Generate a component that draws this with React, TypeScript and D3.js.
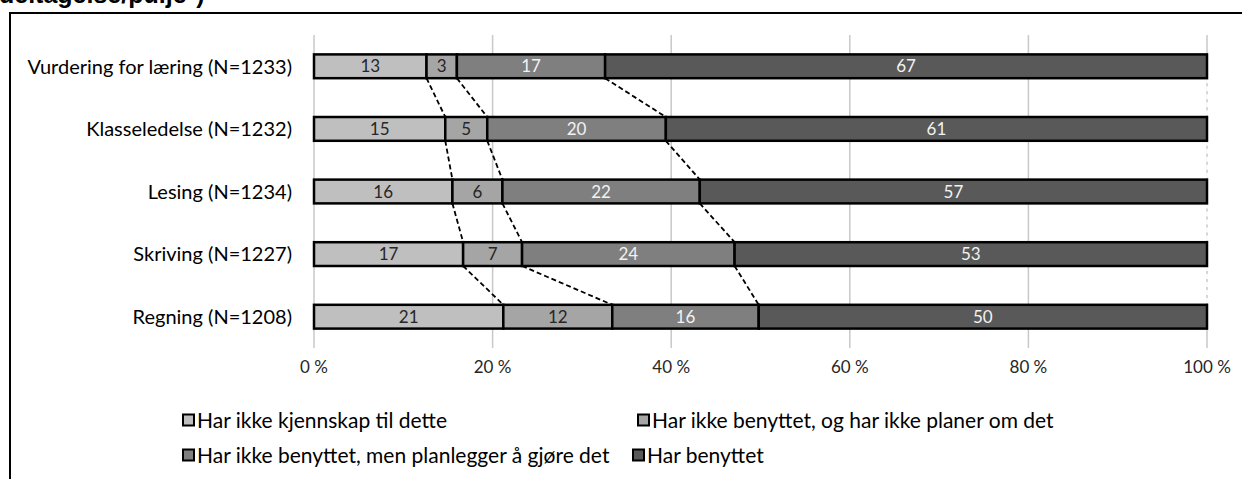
import React, { useEffect, useRef } from "react";
import * as d3 from "d3";

// categories (top to bottom)
const categories = [
  "Vurdering for læring (N=1233)",
  "Klasseledelse (N=1232)",
  "Lesing (N=1234)",
  "Skriving (N=1227)",
  "Regning (N=1208)",
];

// series, percent per category
const seriesNames = [
  "Har ikke kjennskap til dette",
  "Har ikke benyttet, og har ikke planer om det",
  "Har ikke benyttet, men planlegger å gjøre det",
  "Har benyttet",
];
const notKnown = [12.6, 14.7, 15.5, 16.7, 21.2];
const notPlanned = [3.4, 4.7, 5.6, 6.6, 12.2];
const planned = [16.6, 20.0, 22.1, 23.8, 16.4];
const used = [67.4, 60.6, 56.8, 52.9, 50.2];

const xTicks = [0, 20, 40, 60, 80, 100];
const colors = ["#bfbfbf", "#a5a5a5", "#7f7f7f", "#595959"];
const labelColors = ["#262626", "#262626", "#f2f2f2", "#f2f2f2"];

const FONT = "Lato, 'Open Sans', sans-serif";

export default function App() {
  const ref = useRef<SVGSVGElement>(null);

  useEffect(() => {
    const svg = d3.select(ref.current);
    svg.selectAll("*").remove();

    const width = 1242;
    const height = 479;
    const series = [notKnown, notPlanned, planned, used];

    const x = d3.scaleLinear().domain([0, 100]).range([314, 1207]);
    const y = d3
      .scaleBand<string>()
      .domain(categories)
      .range([35, 348])
      .paddingInner(0.62)
      .paddingOuter(0.31);

    // outer frame + clipped heading
    svg
      .append("text")
      .attr("x", -1)
      .attr("y", 3)
      .attr("font-family", "'Liberation Sans', Arial, sans-serif")
      .attr("font-weight", "bold")
      .attr("font-size", 25)
      .text("deltagelse/pulje*)");

    svg
      .append("path")
      .attr("d", `M10,${height + 5}V13H${width + 5}`)
      .attr("fill", "none")
      .attr("stroke", "#000")
      .attr("stroke-width", 2);

    // grid
    svg
      .append("g")
      .selectAll("line")
      .data(xTicks)
      .join("line")
      .attr("x1", (d) => x(d))
      .attr("x2", (d) => x(d))
      .attr("y1", 35)
      .attr("y2", 348)
      .attr("stroke", "#c8c8c8")
      .attr("stroke-width", 1.5);

    // tick labels
    svg
      .append("g")
      .selectAll("text")
      .data(xTicks)
      .join("text")
      .attr("x", (d) => x(d))
      .attr("y", 373)
      .attr("text-anchor", "middle")
      .attr("font-family", FONT)
      .attr("font-size", 17)
      .attr("fill", "#262626")
      .text((d) => `${d} %`);

    const stacked = categories.map((c, i) => {
      let acc = 0;
      return series.map((s, k) => {
        const x0 = acc;
        acc += s[i];
        return { cat: c, k, v: s[i], x0, x1: acc };
      });
    });

    // dashed connectors between bars
    const conn = svg.append("g");
    for (let i = 0; i < categories.length - 1; i++) {
      const yb = y(categories[i])! + y.bandwidth();
      const yt = y(categories[i + 1])!;
      stacked[i].forEach((seg, k) => {
        const last = k === stacked[i].length - 1;
        const xa = last ? x(100) : x(seg.x1);
        const xb = last ? x(100) : x(stacked[i + 1][k].x1);
        conn
          .append("line")
          .attr("x1", xa)
          .attr("x2", xb)
          .attr("y1", yb)
          .attr("y2", yt)
          .attr("stroke", last ? "#ffffff" : "#000")
          .attr("stroke-width", 1.8)
          .attr("stroke-dasharray", "5,3");
      });
    }

    // bars
    const bars = svg.append("g");
    stacked.forEach((row) => {
      row.forEach((seg) => {
        bars
          .append("rect")
          .attr("x", x(seg.x0))
          .attr("y", y(seg.cat)!)
          .attr("width", Math.min(x(seg.x1), x(100)) - x(seg.x0))
          .attr("height", y.bandwidth())
          .attr("fill", colors[seg.k])
          .attr("stroke", "#000")
          .attr("stroke-width", 2.5);
      });
    });

    // value labels
    stacked.forEach((row) => {
      row.forEach((seg) => {
        bars
          .append("text")
          .attr("x", (x(seg.x0) + Math.min(x(seg.x1), x(100))) / 2)
          .attr("y", y(seg.cat)! + y.bandwidth() / 2)
          .attr("dy", "0.36em")
          .attr("text-anchor", "middle")
          .attr("font-family", FONT)
          .attr("font-size", 17)
          .attr("fill", labelColors[seg.k])
          .text(Math.round(seg.v));
      });
    });

    // category labels
    svg
      .append("g")
      .selectAll("text")
      .data(categories)
      .join("text")
      .attr("x", 292)
      .attr("y", (d) => y(d)! + y.bandwidth() / 2)
      .attr("dy", "0.36em")
      .attr("text-anchor", "end")
      .attr("font-family", FONT)
      .attr("font-size", 20)
      .attr("fill", "#000")
      .text((d) => d);

    // legend
    const legendPos = [
      [183, 420],
      [638, 420],
      [183, 455],
      [633, 455],
    ];
    const legend = svg.append("g");
    seriesNames.forEach((name, k) => {
      const [lx, ly] = legendPos[k];
      legend
        .append("rect")
        .attr("x", lx)
        .attr("y", ly - 5.5)
        .attr("width", 11)
        .attr("height", 11)
        .attr("fill", colors[k])
        .attr("stroke", "#000")
        .attr("stroke-width", 2);
      legend
        .append("text")
        .attr("x", lx + 14)
        .attr("y", ly)
        .attr("dy", "0.36em")
        .attr("font-family", FONT)
        .attr("font-size", 21)
        .attr("fill", "#000")
        .text(name);
    });
  }, []);

  return (
    <svg
      ref={ref}
      width={1242}
      height={479}
      style={{ position: "absolute", left: 0, top: 0, background: "#fff" }}
    />
  );
}
